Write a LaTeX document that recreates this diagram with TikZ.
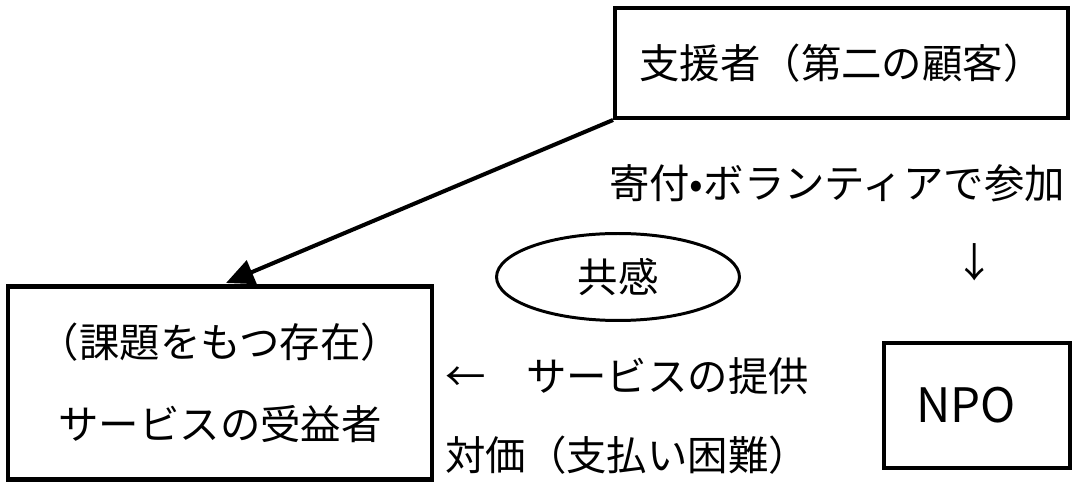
\documentclass[tikz,border=0pt]{standalone}
\usepackage{fontspec}
\setmainfont{Noto Sans CJK JP}
\usepackage{tikz}
\usetikzlibrary{arrows.meta,shapes.geometric,positioning}
\tikzset{
  box/.style ={rectangle, draw=black, line width=2.3pt, inner sep=0pt, align=center},
  cloud/.style={ellipse, draw=black, line width=1.7pt, inner sep=0pt},
  lbl/.style ={inner sep=0pt},
  flow/.style ={-{Triangle[length=0.56cm, width=0.5cm]}, line width=2.3pt, draw=black}
}

\begin{document}
\begin{tikzpicture}[x=0.02cm, y=-0.02cm, font=\fontsize{23}{27}\selectfont]
\useasboundingbox (0,0) rectangle (1078,482);
% boxes
\node[box, minimum width=9.06cm, minimum height=2.2cm] (sup) at (841.5,63) {支援者（第二の顧客）};
\node[box, minimum width=8.48cm, minimum height=3.86cm, font=\fontsize{23}{46.5}\selectfont] (ben) at (220,383) {（課題をもつ存在）\\サービスの受益者};
\node[box, minimum width=3.72cm, minimum height=2.5cm, font=\fontsize{27}{30}\selectfont] (npo) at (977,405.5) {NPO\hspace*{0.44cm}};
\node[cloud, minimum width=4.86cm, minimum height=1.74cm] (emp) at (618,277) {共感};
% labels
\node[lbl] (don) at (837,183) {寄付•ボランティアで参加};
\node[lbl] (down) at (975,262) {↓};
\node[lbl, anchor=west] (prov) at (445,376) {←　サービスの提供};
\node[lbl, anchor=west] (pay) at (445,455) {対価（支払い困難）};
% arrow
\coordinate (tip) at (226,283);
\draw[flow] (sup.south west) -- (tip);
\end{tikzpicture}
\end{document}
